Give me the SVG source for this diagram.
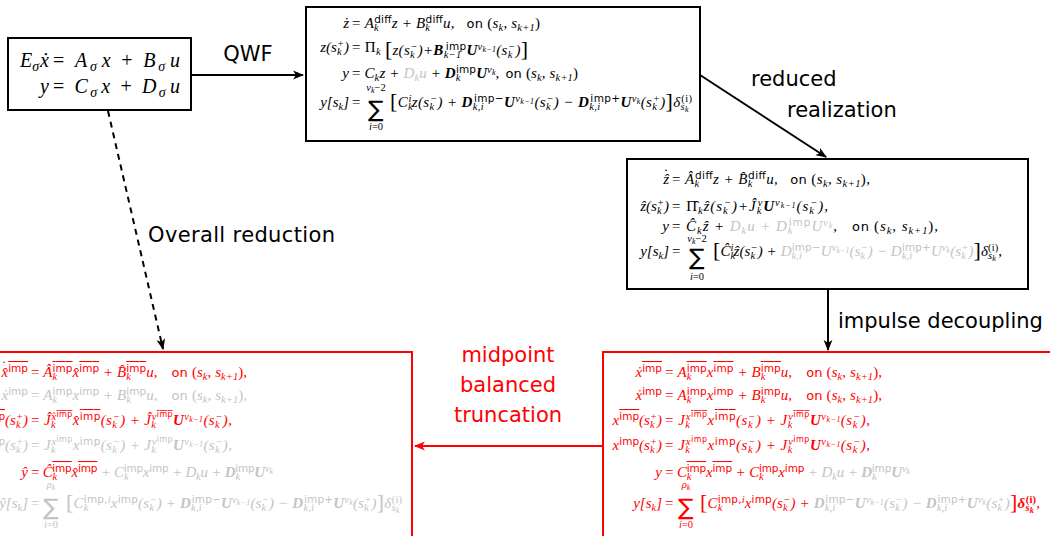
<svg xmlns="http://www.w3.org/2000/svg" width="1050" height="536" viewBox="0 0 1050 536">
<style>
text{font-family:"Liberation Serif",serif;font-size:15px;font-style:italic;fill:#000}
.u{font-style:normal}
.sc{font-size:10.5px}
.ss{font-size:8px}
.sf{font-family:"DejaVu Sans",sans-serif;font-style:normal}
.bf{font-weight:bold}
.g{fill:#c4c4c4}
.rd{fill:#ff0000}
.ol{text-decoration:overline}
.on{font-family:"DejaVu Sans",sans-serif;font-style:normal;font-size:13px}
.big{font-size:22px;font-style:normal}
.sum{font-family:"DejaVu Sans",sans-serif;font-style:normal;font-size:23px}
.lbl{font-family:"DejaVu Sans",sans-serif;font-style:normal;font-size:21px}
.lg{font-size:20px}
.lgs{font-size:14px}
.box{fill:#fff;stroke:#000;stroke-width:2}
.rbox{fill:#fff;stroke:#ff0000;stroke-width:2}
.con{fill:none;stroke:#000;stroke-width:2}
</style>
<defs>
<marker id="ah" viewBox="0 0 10 10" refX="9" refY="5" markerWidth="11" markerHeight="11" markerUnits="userSpaceOnUse" orient="auto"><path d="M0,1 L10,5 L0,9 L2.5,5 z" fill="#000"/></marker>
<marker id="ahr" viewBox="0 0 10 10" refX="9" refY="5" markerWidth="11" markerHeight="11" markerUnits="userSpaceOnUse" orient="auto"><path d="M0,1 L10,5 L0,9 L2.5,5 z" fill="#ff0000"/></marker>
</defs>
<rect width="1050" height="536" fill="#fff"/>

<g id="connectors">
<line class="con" x1="191" y1="75" x2="303" y2="75" marker-end="url(#ah)"/>
<line class="con" x1="700" y1="75" x2="826" y2="157" marker-end="url(#ah)"/>
<line class="con" x1="828" y1="289" x2="828" y2="350" marker-end="url(#ah)"/>
<line class="con" x1="108" y1="111" x2="163" y2="349" stroke-dasharray="6,5" marker-end="url(#ah)"/>
<line x1="603" y1="446" x2="415" y2="446" stroke="#ff0000" stroke-width="2" marker-end="url(#ahr)"/>
<text class="lbl" x="248" y="61" text-anchor="middle">QWF</text>
<text class="lbl" x="751" y="86">reduced</text>
<text class="lbl" x="787" y="117">realization</text>
<text class="lbl" x="838" y="328">impulse decoupling</text>
<text class="lbl" x="148" y="242" textLength="187">Overall reduction</text>
<text class="lbl rd" x="508" y="362" text-anchor="middle">midpoint</text>
<text class="lbl rd" x="508" y="392" text-anchor="middle">balanced</text>
<text class="lbl rd" x="508" y="422" text-anchor="middle">truncation</text>
</g>

<g id="node-descriptor">
<rect class="box" x="8" y="38" width="183" height="72"/>
<text class="lg" x="49" y="67" text-anchor="end">E<tspan class="lgs" dy="4">σ</tspan><tspan dx="1" dy="-4">ẋ</tspan></text>
<text class="lg" x="53" y="67" textLength="127"><tspan class="u">=</tspan><tspan dx="9">A</tspan><tspan class="lgs" dx="1" dy="4">σ</tspan><tspan dx="3" dy="-4">x</tspan><tspan class="u" dx="9">+</tspan><tspan dx="9">B</tspan><tspan class="lgs" dx="1" dy="4">σ</tspan><tspan dx="3" dy="-4">u</tspan></text>
<text class="lg" x="49" y="93" text-anchor="end">y</text>
<text class="lg" x="53" y="93" textLength="127"><tspan class="u">=</tspan><tspan dx="9">C</tspan><tspan class="lgs" dx="1" dy="4">σ</tspan><tspan dx="3" dy="-4">x</tspan><tspan class="u" dx="9">+</tspan><tspan dx="9">D</tspan><tspan class="lgs" dx="1" dy="4">σ</tspan><tspan dx="3" dy="-4">u</tspan></text>
</g>

<g id="node-qwf">
<rect class="box" x="306" y="7" width="394" height="134"/>
<text x="349" y="28" text-anchor="end">ż</text>
<text x="352" y="28" textLength="188"><tspan class="u">= </tspan>A<tspan class="sc" dy="3">k</tspan><tspan class="sc sf" dx="-4.7" dy="-8">diff</tspan><tspan dy="5">z + B</tspan><tspan class="sc" dy="3">k</tspan><tspan class="sc sf" dx="-4.7" dy="-8">diff</tspan><tspan dy="5">u,</tspan><tspan class="on" dx="12">on</tspan><tspan class="u" dx="4">(</tspan>s<tspan class="sc" dy="3">k</tspan><tspan dy="-3">, s</tspan><tspan class="sc" dy="3">k+1</tspan><tspan class="u" dy="-3">)</tspan></text>
<text x="349" y="52" text-anchor="end">z(s<tspan class="sc" dy="3">k</tspan><tspan class="sc" dx="-4.7" dy="-8">+</tspan><tspan dy="5">)</tspan></text>
<text x="352" y="52" textLength="176"><tspan class="u">= Π</tspan><tspan class="sc" dy="3">k</tspan><tspan class="big" dx="4" dy="1">[</tspan><tspan dy="-1">z(s</tspan><tspan class="sc" dy="3">k</tspan><tspan class="sc" dx="-4.7" dy="-8">−</tspan><tspan dy="5">)+</tspan><tspan class="bf">B</tspan><tspan class="sc" dy="3">k−1</tspan><tspan class="sc sf" dx="-15.8" dy="-8">imp</tspan><tspan class="bf" dy="5">U</tspan><tspan class="sc" dy="-5">ν</tspan><tspan class="ss" dy="2">k−1</tspan><tspan dy="3">(s</tspan><tspan class="sc" dy="3">k</tspan><tspan class="sc" dx="-4.7" dy="-8">−</tspan><tspan dy="5">)</tspan><tspan class="big" dy="1">]</tspan></text>
<text x="349" y="78" text-anchor="end">y</text>
<text x="352" y="78" textLength="226"><tspan class="u">= </tspan>C<tspan class="sc" dy="3">k</tspan><tspan dy="-3">z + </tspan><tspan class="g">D</tspan><tspan class="sc g" dy="3">k</tspan><tspan class="g" dy="-3">u</tspan><tspan> + </tspan><tspan class="bf">D</tspan><tspan class="sc" dy="3">k</tspan><tspan class="sc sf" dx="-4.7" dy="-8">imp</tspan><tspan class="bf" dy="5">U</tspan><tspan class="sc" dy="-5">ν</tspan><tspan class="ss" dy="2">k</tspan><tspan dy="3">,</tspan><tspan class="on" dx="6">on</tspan><tspan class="u" dx="4">(</tspan>s<tspan class="sc" dy="3">k</tspan><tspan dy="-3">, s</tspan><tspan class="sc" dy="3">k+1</tspan><tspan class="u" dy="-3">)</tspan></text>
<text x="349" y="107" text-anchor="end">y[s<tspan class="sc" dy="3">k</tspan><tspan dy="-3">]</tspan></text>
<text class="u" x="352" y="107">=</text>
<text class="sum" x="368" y="117">∑</text>
<text class="sc" x="376" y="91" text-anchor="middle">ν<tspan class="ss" dy="2">k</tspan><tspan class="u" dy="-2">−2</tspan></text>
<text class="sc" x="376" y="130" text-anchor="middle">i<tspan class="u">=0</tspan></text>
<text x="390" y="107" textLength="302"><tspan class="big" dy="1">[</tspan><tspan dy="-1">C</tspan><tspan class="sc" dy="3">k</tspan><tspan class="sc" dx="-4.7" dy="-8">i</tspan><tspan dy="5">z(s</tspan><tspan class="sc" dy="3">k</tspan><tspan class="sc" dx="-4.7" dy="-8">−</tspan><tspan dy="5">) + </tspan><tspan class="bf">D</tspan><tspan class="sc" dy="3">k,i</tspan><tspan class="sc sf" dx="-10.2" dy="-8">imp−</tspan><tspan class="bf" dy="5">U</tspan><tspan class="sc" dy="-5">ν</tspan><tspan class="ss" dy="2">k−1</tspan><tspan dy="3">(s</tspan><tspan class="sc" dy="3">k</tspan><tspan class="sc" dx="-4.7" dy="-8">−</tspan><tspan dy="5">) − </tspan><tspan class="bf">D</tspan><tspan class="sc" dy="3">k,i</tspan><tspan class="sc sf" dx="-10.2" dy="-8">imp+</tspan><tspan class="bf" dy="5">U</tspan><tspan class="sc" dy="-5">ν</tspan><tspan class="ss" dy="2">k</tspan><tspan dy="3">(s</tspan><tspan class="sc" dy="3">k</tspan><tspan class="sc" dx="-4.7" dy="-8">+</tspan><tspan dy="5">)</tspan><tspan class="big" dy="1">]</tspan><tspan dy="-1">δ</tspan><tspan class="sc" dy="3">s</tspan><tspan class="ss" dy="1.5">k</tspan><tspan class="sc u" dx="-7.7" dy="-9.5">(i)</tspan></text>
</g>

<g id="node-reduced">
<rect class="box" x="627" y="159" width="401" height="130"/>
<text x="669" y="184" text-anchor="end">ẑ</text>
<text class="u" x="666" y="179" text-anchor="middle">˙</text>
<text x="672" y="184" textLength="198"><tspan class="u">= </tspan>Â<tspan class="sc" dy="3">k</tspan><tspan class="sc sf" dx="-4.7" dy="-8">diff</tspan><tspan dy="5">z + B̂</tspan><tspan class="sc" dy="3">k</tspan><tspan class="sc sf" dx="-4.7" dy="-8">diff</tspan><tspan dy="5">u,</tspan><tspan class="on" dx="12">on</tspan><tspan class="u" dx="4">(</tspan>s<tspan class="sc" dy="3">k</tspan><tspan dy="-3">, s</tspan><tspan class="sc" dy="3">k+1</tspan><tspan class="u" dy="-3">),</tspan></text>
<text x="669" y="211" text-anchor="end">ẑ(s<tspan class="sc" dy="3">k</tspan><tspan class="sc" dx="-4.7" dy="-8">+</tspan><tspan dy="5">)</tspan></text>
<text x="672" y="211" textLength="156"><tspan class="u">= Π̂</tspan><tspan class="sc" dy="3">k</tspan><tspan dy="-3">ẑ(s</tspan><tspan class="sc" dy="3">k</tspan><tspan class="sc" dx="-4.7" dy="-8">−</tspan><tspan dy="5">)+Ĵ</tspan><tspan class="sc" dy="3">k</tspan><tspan class="sc" dx="-4.7" dy="-8">v</tspan><tspan class="bf" dy="5">U</tspan><tspan class="sc" dy="-5">ν</tspan><tspan class="ss" dy="2">k−1</tspan><tspan dy="3">(s</tspan><tspan class="sc" dy="3">k</tspan><tspan class="sc" dx="-4.7" dy="-8">−</tspan><tspan dy="5">),</tspan></text>
<text x="669" y="231" text-anchor="end">y</text>
<text x="672" y="231" textLength="266"><tspan class="u">= </tspan>Ĉ<tspan class="sc" dy="3">k</tspan><tspan dy="-3">ẑ + </tspan><tspan class="g">D</tspan><tspan class="sc g" dy="3">k</tspan><tspan class="g" dy="-3">u + D</tspan><tspan class="sc g" dy="3">k</tspan><tspan class="sc sf g" dx="-4.7" dy="-8">imp</tspan><tspan class="g" dy="5">U</tspan><tspan class="sc g" dy="-5">ν</tspan><tspan class="ss g" dy="2">k</tspan><tspan dy="3">,</tspan><tspan class="on" dx="14">on</tspan><tspan class="u" dx="4">(</tspan>s<tspan class="sc" dy="3">k</tspan><tspan dy="-3">, s</tspan><tspan class="sc" dy="3">k+1</tspan><tspan class="u" dy="-3">),</tspan></text>
<text x="669" y="256" text-anchor="end">y[s<tspan class="sc" dy="3">k</tspan><tspan dy="-3">]</tspan></text>
<text class="u" x="672" y="256">=</text>
<text class="sum" x="689" y="265">∑</text>
<text class="sc" x="697" y="242" text-anchor="middle">ν<tspan class="ss" dy="2">k</tspan><tspan class="u" dy="-2">−2</tspan></text>
<text class="sc" x="697" y="280" text-anchor="middle">i<tspan class="u">=0</tspan></text>
<text x="713" y="256" textLength="289"><tspan class="big" dy="1">[</tspan><tspan dy="-1">Ĉ</tspan><tspan class="sc" dy="3">k</tspan><tspan class="sc" dx="-4.7" dy="-8">i</tspan><tspan dy="5">ẑ(s</tspan><tspan class="sc" dy="3">k</tspan><tspan class="sc" dx="-4.7" dy="-8">−</tspan><tspan dy="5">) + </tspan><tspan class="g">D</tspan><tspan class="sc g" dy="3">k,i</tspan><tspan class="sc sf g" dx="-10.2" dy="-8">imp−</tspan><tspan class="g" dy="5">U</tspan><tspan class="sc g" dy="-5">ν</tspan><tspan class="ss g" dy="2">k−1</tspan><tspan class="g" dy="3">(s</tspan><tspan class="sc g" dy="3">k</tspan><tspan class="sc g" dx="-4.7" dy="-8">−</tspan><tspan class="g" dy="5">) − D</tspan><tspan class="sc g" dy="3">k,i</tspan><tspan class="sc sf g" dx="-10.2" dy="-8">imp+</tspan><tspan class="g" dy="5">U</tspan><tspan class="sc g" dy="-5">ν</tspan><tspan class="ss g" dy="2">k</tspan><tspan class="g" dy="3">(s</tspan><tspan class="sc g" dy="3">k</tspan><tspan class="sc g" dx="-4.7" dy="-8">+</tspan><tspan class="g" dy="5">)</tspan><tspan class="big" dy="1">]</tspan><tspan dy="-1">δ</tspan><tspan class="sc" dy="3">s</tspan><tspan class="ss" dy="1.5">k</tspan><tspan class="sc u" dx="-7.7" dy="-9.5">(i)</tspan><tspan dy="5">,</tspan></text>
</g>

<g id="node-decoupled">
<rect class="rbox" x="603" y="352" width="460" height="200"/>
<text class="rd" x="662" y="377" text-anchor="end">ẋ<tspan class="sc sf ol" dy="-5">imp</tspan></text>
<text class="rd" x="665" y="377" textLength="217"><tspan class="u">= </tspan>A<tspan class="sc" dy="3">k</tspan><tspan class="sc sf ol" dx="-4.7" dy="-8">imp</tspan><tspan dy="5">x</tspan><tspan class="sc sf ol" dy="-5">imp</tspan><tspan dy="5"> + B</tspan><tspan class="sc" dy="3">k</tspan><tspan class="sc sf ol" dx="-4.7" dy="-8">imp</tspan><tspan dy="5">u,</tspan><tspan class="on" dx="14">on</tspan><tspan class="u" dx="4">(</tspan>s<tspan class="sc" dy="3">k</tspan><tspan dy="-3">, s</tspan><tspan class="sc" dy="3">k+1</tspan><tspan class="u" dy="-3">),</tspan></text>
<text class="rd" x="662" y="400" text-anchor="end">ẋ<tspan class="sc sf" dy="-5">imp</tspan></text>
<text class="rd" x="665" y="400" textLength="217"><tspan class="u">= </tspan>A<tspan class="sc" dy="3">k</tspan><tspan class="sc sf" dx="-4.7" dy="-8">imp</tspan><tspan dy="5">x</tspan><tspan class="sc sf" dy="-5">imp</tspan><tspan dy="5"> + B</tspan><tspan class="sc" dy="3">k</tspan><tspan class="sc sf" dx="-4.7" dy="-8">imp</tspan><tspan dy="5">u,</tspan><tspan class="on" dx="14">on</tspan><tspan class="u" dx="4">(</tspan>s<tspan class="sc" dy="3">k</tspan><tspan dy="-3">, s</tspan><tspan class="sc" dy="3">k+1</tspan><tspan class="u" dy="-3">),</tspan></text>
<text class="rd" x="662" y="425" text-anchor="end">x<tspan class="sc sf ol" dy="-5">imp</tspan><tspan dy="5">(s</tspan><tspan class="sc" dy="3">k</tspan><tspan class="sc" dx="-4.7" dy="-8">+</tspan><tspan dy="5">)</tspan></text>
<text class="rd" x="665" y="425" textLength="205"><tspan class="u">= </tspan>J<tspan class="sc" dy="3">k</tspan><tspan class="sc" dx="-4.7" dy="-8">x</tspan><tspan class="ss sf ol" dy="-3">imp</tspan><tspan dy="8">x</tspan><tspan class="sc sf ol" dy="-5">imp</tspan><tspan dy="5">(s</tspan><tspan class="sc" dy="3">k</tspan><tspan class="sc" dx="-4.7" dy="-8">−</tspan><tspan dy="5">) + J</tspan><tspan class="sc" dy="3">k</tspan><tspan class="sc" dx="-4.7" dy="-8">v</tspan><tspan class="ss sf ol" dy="-3">imp</tspan><tspan class="bf" dy="8">U</tspan><tspan class="sc" dy="-5">ν</tspan><tspan class="ss" dy="2">k−1</tspan><tspan dy="3">(s</tspan><tspan class="sc" dy="3">k</tspan><tspan class="sc" dx="-4.7" dy="-8">−</tspan><tspan dy="5">),</tspan></text>
<text class="rd" x="662" y="450" text-anchor="end">x<tspan class="sc sf" dy="-5">imp</tspan><tspan dy="5">(s</tspan><tspan class="sc" dy="3">k</tspan><tspan class="sc" dx="-4.7" dy="-8">+</tspan><tspan dy="5">)</tspan></text>
<text class="rd" x="665" y="450" textLength="205"><tspan class="u">= </tspan>J<tspan class="sc" dy="3">k</tspan><tspan class="sc" dx="-4.7" dy="-8">x</tspan><tspan class="ss sf" dy="-3">imp</tspan><tspan dy="8">x</tspan><tspan class="sc sf" dy="-5">imp</tspan><tspan dy="5">(s</tspan><tspan class="sc" dy="3">k</tspan><tspan class="sc" dx="-4.7" dy="-8">−</tspan><tspan dy="5">) + J</tspan><tspan class="sc" dy="3">k</tspan><tspan class="sc" dx="-4.7" dy="-8">v</tspan><tspan class="ss sf" dy="-3">imp</tspan><tspan class="bf" dy="8">U</tspan><tspan class="sc" dy="-5">ν</tspan><tspan class="ss" dy="2">k−1</tspan><tspan dy="3">(s</tspan><tspan class="sc" dy="3">k</tspan><tspan class="sc" dx="-4.7" dy="-8">−</tspan><tspan dy="5">),</tspan></text>
<text class="rd" x="662" y="477" text-anchor="end">y</text>
<text class="rd" x="665" y="477" textLength="245"><tspan class="u">= </tspan>C<tspan class="sc" dy="3">k</tspan><tspan class="sc sf ol" dx="-4.7" dy="-8">imp</tspan><tspan dy="5">x</tspan><tspan class="sc sf ol" dy="-5">imp</tspan><tspan dy="5"> + C</tspan><tspan class="sc" dy="3">k</tspan><tspan class="sc sf" dx="-4.7" dy="-8">imp</tspan><tspan dy="5">x</tspan><tspan class="sc sf" dy="-5">imp</tspan><tspan class="g" dy="5"> + D</tspan><tspan class="sc g" dy="3">k</tspan><tspan class="g" dy="-3">u + </tspan><tspan class="g bf">D</tspan><tspan class="sc g" dy="3">k</tspan><tspan class="sc sf g" dx="-4.7" dy="-8">imp</tspan><tspan class="g bf" dy="5">U</tspan><tspan class="sc g" dy="-5">ν</tspan><tspan class="ss g" dy="2">k</tspan></text>
<text class="rd" x="662" y="508" text-anchor="end">y[s<tspan class="sc" dy="3">k</tspan><tspan dy="-3">]</tspan></text>
<text class="rd u" x="665" y="508">=</text>
<text class="sum rd" x="678" y="515">∑</text>
<text class="sc rd" x="686" y="488" text-anchor="middle">ρ<tspan class="ss" dy="2">k</tspan></text>
<text class="sc rd" x="686" y="528" text-anchor="middle">i<tspan class="u">=0</tspan></text>
<text class="rd" x="700" y="508" textLength="340"><tspan class="big" dy="1">[</tspan><tspan dy="-1">C</tspan><tspan class="sc" dy="3">k</tspan><tspan class="sc sf" dx="-4.7" dy="-8">imp,</tspan><tspan class="sc">i</tspan><tspan dy="5">x</tspan><tspan class="sc sf" dy="-5">imp</tspan><tspan dy="5">(s</tspan><tspan class="sc" dy="3">k</tspan><tspan class="sc" dx="-4.7" dy="-8">−</tspan><tspan dy="5">) + </tspan><tspan class="g bf">D</tspan><tspan class="sc g" dy="3">k,i</tspan><tspan class="sc sf g" dx="-10.2" dy="-8">imp−</tspan><tspan class="g bf" dy="5">U</tspan><tspan class="sc g" dy="-5">ν</tspan><tspan class="ss g" dy="2">k−1</tspan><tspan class="g" dy="3">(s</tspan><tspan class="sc g" dy="3">k</tspan><tspan class="sc g" dx="-4.7" dy="-8">−</tspan><tspan class="g" dy="5">) − </tspan><tspan class="g bf">D</tspan><tspan class="sc g" dy="3">k,i</tspan><tspan class="sc sf g" dx="-10.2" dy="-8">imp+</tspan><tspan class="g bf" dy="5">U</tspan><tspan class="sc g" dy="-5">ν</tspan><tspan class="ss g" dy="2">k</tspan><tspan class="g" dy="3">(s</tspan><tspan class="sc g" dy="3">k</tspan><tspan class="sc g" dx="-4.7" dy="-8">+</tspan><tspan class="g" dy="5">)</tspan><tspan class="big" dy="1">]</tspan><tspan class="bf" dy="-1">δ</tspan><tspan class="sc bf" dy="3">s</tspan><tspan class="ss bf" dy="1.5">k</tspan><tspan class="sc u bf" dx="-8" dy="-9.5">(i)</tspan><tspan dy="5">,</tspan></text>
</g>

<g id="node-truncated">
<rect class="rbox" x="-10" y="352" width="422" height="200"/>
<text class="rd" x="28" y="377" text-anchor="end">x̂<tspan class="sc sf ol" dy="-5">imp</tspan></text>
<text class="rd u" x="4" y="371" text-anchor="middle">˙</text>
<text class="rd" x="31" y="377" textLength="216"><tspan class="u">= </tspan>Â<tspan class="sc" dy="3">k</tspan><tspan class="sc sf ol" dx="-4.7" dy="-8">imp</tspan><tspan dy="5">x̂</tspan><tspan class="sc sf ol" dy="-5">imp</tspan><tspan dy="5"> + B̂</tspan><tspan class="sc" dy="3">k</tspan><tspan class="sc sf ol" dx="-4.7" dy="-8">imp</tspan><tspan dy="5">u,</tspan><tspan class="on" dx="14">on</tspan><tspan class="u" dx="4">(</tspan>s<tspan class="sc" dy="3">k</tspan><tspan dy="-3">, s</tspan><tspan class="sc" dy="3">k+1</tspan><tspan class="u" dy="-3">),</tspan></text>
<text class="g" x="28" y="400" text-anchor="end">ẋ<tspan class="sc sf" dy="-5">imp</tspan></text>
<text class="g" x="31" y="400" textLength="216"><tspan class="u">= </tspan>A<tspan class="sc" dy="3">k</tspan><tspan class="sc sf" dx="-4.7" dy="-8">imp</tspan><tspan dy="5">x</tspan><tspan class="sc sf" dy="-5">imp</tspan><tspan dy="5"> + B</tspan><tspan class="sc" dy="3">k</tspan><tspan class="sc sf" dx="-4.7" dy="-8">imp</tspan><tspan dy="5">u,</tspan><tspan class="on" dx="14">on</tspan><tspan class="u" dx="4">(</tspan>s<tspan class="sc" dy="3">k</tspan><tspan dy="-3">, s</tspan><tspan class="sc" dy="3">k+1</tspan><tspan class="u" dy="-3">),</tspan></text>
<text class="rd" x="28" y="425" text-anchor="end">x̂<tspan class="sc sf ol" dy="-5">imp</tspan><tspan dy="5">(s</tspan><tspan class="sc" dy="3">k</tspan><tspan class="sc" dx="-4.7" dy="-8">+</tspan><tspan dy="5">)</tspan></text>
<text class="rd" x="31" y="425" textLength="201"><tspan class="u">= </tspan>Ĵ<tspan class="sc" dy="3">k</tspan><tspan class="sc" dx="-4.7" dy="-8">x̂</tspan><tspan class="ss sf ol" dy="-3">imp</tspan><tspan dy="8">x̂</tspan><tspan class="sc sf ol" dy="-5">imp</tspan><tspan dy="5">(s</tspan><tspan class="sc" dy="3">k</tspan><tspan class="sc" dx="-4.7" dy="-8">−</tspan><tspan dy="5">) + Ĵ</tspan><tspan class="sc" dy="3">k</tspan><tspan class="sc" dx="-4.7" dy="-8">v</tspan><tspan class="ss sf ol" dy="-3">imp</tspan><tspan class="bf" dy="8">U</tspan><tspan class="sc" dy="-5">ν</tspan><tspan class="ss" dy="2">k−1</tspan><tspan dy="3">(s</tspan><tspan class="sc" dy="3">k</tspan><tspan class="sc" dx="-4.7" dy="-8">−</tspan><tspan dy="5">),</tspan></text>
<text class="g" x="28" y="450" text-anchor="end">x<tspan class="sc sf" dy="-5">imp</tspan><tspan dy="5">(s</tspan><tspan class="sc" dy="3">k</tspan><tspan class="sc" dx="-4.7" dy="-8">+</tspan><tspan dy="5">)</tspan></text>
<text class="g" x="31" y="450" textLength="201"><tspan class="u">= </tspan>J<tspan class="sc" dy="3">k</tspan><tspan class="sc" dx="-4.7" dy="-8">x</tspan><tspan class="ss sf" dy="-3">imp</tspan><tspan dy="8">x</tspan><tspan class="sc sf" dy="-5">imp</tspan><tspan dy="5">(s</tspan><tspan class="sc" dy="3">k</tspan><tspan class="sc" dx="-4.7" dy="-8">−</tspan><tspan dy="5">) + J</tspan><tspan class="sc" dy="3">k</tspan><tspan class="sc" dx="-4.7" dy="-8">v</tspan><tspan class="ss sf" dy="-3">imp</tspan><tspan class="bf" dy="8">U</tspan><tspan class="sc" dy="-5">ν</tspan><tspan class="ss" dy="2">k−1</tspan><tspan dy="3">(s</tspan><tspan class="sc" dy="3">k</tspan><tspan class="sc" dx="-4.7" dy="-8">−</tspan><tspan dy="5">),</tspan></text>
<text class="rd" x="28" y="477" text-anchor="end">ŷ</text>
<text class="rd" x="31" y="477" textLength="242"><tspan class="u">= </tspan>Ĉ<tspan class="sc" dy="3">k</tspan><tspan class="sc sf ol" dx="-4.7" dy="-8">imp</tspan><tspan dy="5">x̂</tspan><tspan class="sc sf ol" dy="-5">imp</tspan><tspan class="g" dy="5"> + C</tspan><tspan class="sc g" dy="3">k</tspan><tspan class="sc sf g" dx="-4.7" dy="-8">imp</tspan><tspan class="g" dy="5">x</tspan><tspan class="sc sf g" dy="-5">imp</tspan><tspan class="g" dy="5"> + D</tspan><tspan class="sc g" dy="3">k</tspan><tspan class="g" dy="-3">u + </tspan><tspan class="g bf">D</tspan><tspan class="sc g" dy="3">k</tspan><tspan class="sc sf g" dx="-4.7" dy="-8">imp</tspan><tspan class="g bf" dy="5">U</tspan><tspan class="sc g" dy="-5">ν</tspan><tspan class="ss g" dy="2">k</tspan></text>
<text class="g" x="28" y="508" text-anchor="end">ŷ[s<tspan class="sc" dy="3">k</tspan><tspan dy="-3">]</tspan></text>
<text class="g u" x="31" y="508">=</text>
<text class="sum g" x="43" y="515">∑</text>
<text class="sc g" x="51" y="488" text-anchor="middle">ρ<tspan class="ss" dy="2">k</tspan></text>
<text class="sc g" x="51" y="528" text-anchor="middle">i<tspan class="u">=0</tspan></text>
<text class="g" x="66" y="508" textLength="336"><tspan class="big" dy="1">[</tspan><tspan dy="-1">C</tspan><tspan class="sc" dy="3">k</tspan><tspan class="sc sf" dx="-4.7" dy="-8">imp,</tspan><tspan class="sc">i</tspan><tspan dy="5">x</tspan><tspan class="sc sf" dy="-5">imp</tspan><tspan dy="5">(s</tspan><tspan class="sc" dy="3">k</tspan><tspan class="sc" dx="-4.7" dy="-8">−</tspan><tspan dy="5">) + </tspan><tspan class="bf">D</tspan><tspan class="sc" dy="3">k,i</tspan><tspan class="sc sf" dx="-10.2" dy="-8">imp−</tspan><tspan class="bf" dy="5">U</tspan><tspan class="sc" dy="-5">ν</tspan><tspan class="ss" dy="2">k−1</tspan><tspan dy="3">(s</tspan><tspan class="sc" dy="3">k</tspan><tspan class="sc" dx="-4.7" dy="-8">−</tspan><tspan dy="5">) − </tspan><tspan class="bf">D</tspan><tspan class="sc" dy="3">k,i</tspan><tspan class="sc sf" dx="-10.2" dy="-8">imp+</tspan><tspan class="bf" dy="5">U</tspan><tspan class="sc" dy="-5">ν</tspan><tspan class="ss" dy="2">k</tspan><tspan dy="3">(s</tspan><tspan class="sc" dy="3">k</tspan><tspan class="sc" dx="-4.7" dy="-8">+</tspan><tspan dy="5">)</tspan><tspan class="big" dy="1">]</tspan><tspan dy="-1">δ</tspan><tspan class="sc" dy="3">s</tspan><tspan class="ss" dy="1.5">k</tspan><tspan class="sc u" dx="-7.7" dy="-9.5">(i)</tspan></text>
</g>
</svg>
